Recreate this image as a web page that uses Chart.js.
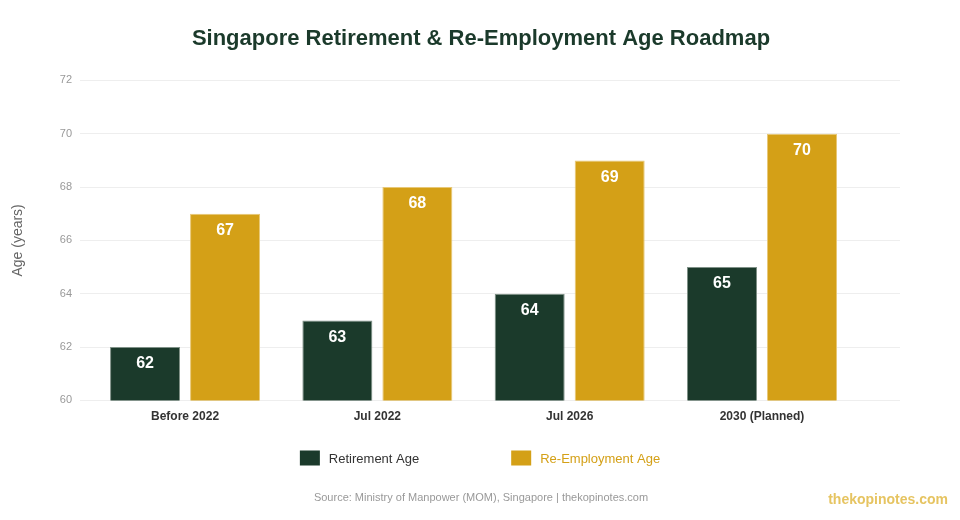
<!DOCTYPE html>
<html>
<head>
<meta charset="utf-8">
<script src="https://cdn.jsdelivr.net/npm/chart.js@4"></script>
<style>
  html, body { margin: 0; padding: 0; background: #fff; }
  #wrap { position: relative; width: 960px; height: 520px; }
  #mark { position: absolute; right: 12px; bottom: 13px; font: bold 14px "Liberation Sans", Arial, sans-serif; color: #e6c461; }
</style>
</head>
<body>
<div id="wrap">
  <canvas id="myChart" width="960" height="520"></canvas>
  <div id="mark">thekopinotes.com</div>
</div>
<script>
const categorias = ["Before 2022", "Jul 2022", "Jul 2026", "2030 (Planned)"];
const edadRetiro = [62, 63, 64, 65];
const edadReempleo = [67, 68, 69, 70];
const ticksY = [60, 62, 64, 66, 68, 70, 72];

const verde = "#1b3a2b";
const dorado = "#d4a017";
const fuente = "'Liberation Sans', Arial, Helvetica, sans-serif";

// puntos {x: indice, y: valor} para el eje x lineal
const puntos = (arr) => arr.map((v, i) => ({ x: i, y: v }));

// numeros blancos dentro de cada barra
const etiquetas = {
  id: "etiquetas",
  afterDatasetsDraw(chart) {
    const ctx = chart.ctx;
    ctx.save();
    ctx.fillStyle = "#fff";
    ctx.font = "bold 16px " + fuente;
    ctx.textAlign = "center";
    ctx.textBaseline = "middle";
    chart.data.datasets.forEach((ds, i) => {
      chart.getDatasetMeta(i).data.forEach((bar, j) => {
        ctx.fillText(ds.data[j].y, bar.x, bar.y + 17);
      });
    });
    ctx.restore();
  }
};

// leyenda dibujada a mano (la de Chart.js mete el padding tambien en vertical)
const leyenda = {
  id: "leyenda",
  afterDraw(chart) {
    const ctx = chart.ctx;
    const colores = ["#333", dorado];
    const caja = 20, sep = 9, hueco = 92, y = 458;
    ctx.save();
    ctx.font = "13px " + fuente;
    ctx.textBaseline = "middle";
    const anchos = chart.data.datasets.map(ds => caja + sep + ctx.measureText(ds.label).width);
    const total = anchos.reduce((a, b) => a + b, 0) + hueco * (anchos.length - 1);
    let x = chart.width / 2 - total / 2;
    chart.data.datasets.forEach((ds, i) => {
      ctx.fillStyle = ds.backgroundColor;
      ctx.fillRect(x, y - 7.5, caja, 15);
      ctx.fillStyle = colores[i];
      ctx.fillText(ds.label, x + caja + sep, y + 1);
      x += anchos[i] + hueco;
    });
    ctx.restore();
  }
};

const data = {
  datasets: [
    { label: "Retirement Age", data: puntos(edadRetiro), backgroundColor: verde, borderColor: "#7f9187", borderWidth: 1 },
    { label: "Re-Employment Age", data: puntos(edadReempleo), backgroundColor: dorado, borderColor: "#e8c877", borderWidth: 1 }
  ]
};

const config = {
  type: "bar",
  data,
  options: {
    responsive: false,
    animation: false,
    layout: { padding: { left: 10, right: 8, top: 6, bottom: 7 } },
    datasets: { bar: { categoryPercentage: 0.832, barPercentage: 0.875 } },
    scales: {
      x: {
        type: "linear",
        offset: false,
        min: -0.546,
        max: 3.7175,
        afterBuildTicks: (axis) => { axis.ticks = categorias.map((c, i) => ({ value: i })); },
        grid: { display: false },
        border: { display: false },
        ticks: {
          color: "#333",
          font: { family: fuente, size: 12, weight: "bold" },
          padding: 1,
          callback: (v) => categorias[v]
        }
      },
      y: {
        min: 60,
        max: 72,
        afterBuildTicks: (axis) => { axis.ticks = ticksY.map(v => ({ value: v })); },
        grid: { color: "#eeeeee", drawTicks: false },
        border: { display: false },
        ticks: { color: "#999", font: { family: fuente, size: 11 }, padding: 8 },
        title: { display: true, text: "Age (years)", color: "#666", font: { family: fuente, size: 14 }, padding: { top: 0, bottom: 25 } }
      },
      // eje vacio a la derecha solo para dejar el margen
      y2: {
        position: "right",
        display: true,
        grid: { display: false },
        border: { display: false },
        ticks: { display: false },
        afterFit: (axis) => { axis.width = 52; }
      }
    },
    plugins: {
      title: {
        display: true,
        text: "Singapore Retirement & Re-Employment Age Roadmap",
        color: verde,
        font: { family: fuente, size: 22, weight: "bold" },
        padding: { top: 20, bottom: 28 }
      },
      subtitle: {
        display: true,
        position: "bottom",
        text: "Source: Ministry of Manpower (MOM), Singapore | thekopinotes.com",
        color: "#999",
        font: { family: fuente, size: 11 },
        padding: { top: 67, bottom: 8 }
      },
      legend: { display: false },
      tooltip: { enabled: false }
    }
  },
  plugins: [etiquetas, leyenda]
};

new Chart(document.getElementById("myChart"), config);
</script>
</body>
</html>
